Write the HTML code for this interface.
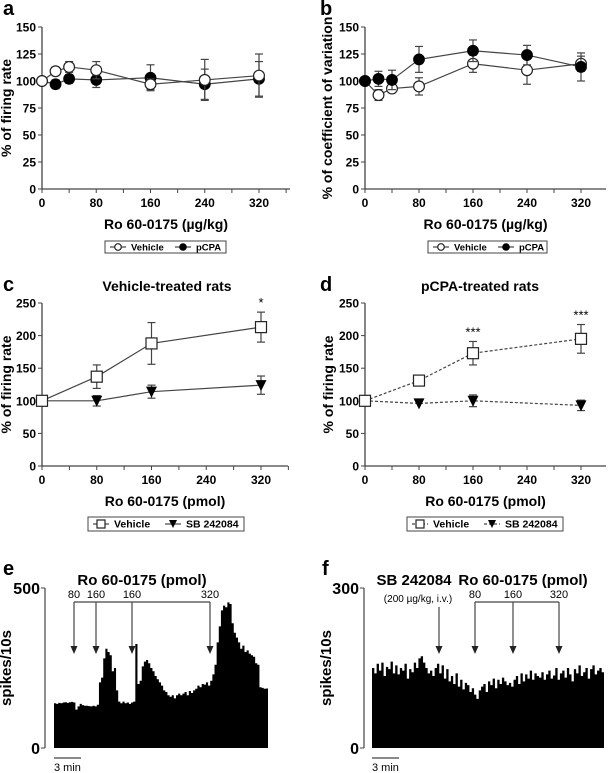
<!DOCTYPE html>
<html><head><meta charset="utf-8"><style>
body{margin:0;background:#fff}
svg{display:block;font-family:"Liberation Sans",Arial,sans-serif}
</style></head><body>
<svg id="fig" width="609" height="773" viewBox="0 0 609 773" xmlns="http://www.w3.org/2000/svg"></svg>
<script>
// ---- data ----
const doseAB = [0,20,40,80,160,240,320];
const aVehicle = [100,109,113,110,97,101,105];
const aVehicleErr = [0,4,5,8,5,19,20];
const aPCPA = [100,97,102,101,103,97,102];
const aPCPAErr = [0,4,4,7,12,14,16];
const bVehicle = [100,87,93,95,116,110,116];
const bVehicleErr = [0,5,4,8,8,13,7];
const bPCPA = [100,102,101,120,128,124,113];
const bPCPAErr = [0,7,9,12,10,9,13];
const doseCD = [0,80,160,320];
const cVehicle = [100,137,188,213];
const cVehicleErr = [0,18,32,23];
const cSB = [100,100,114,124];
const cSBErr = [0,8,10,14];
const dVehicle = [100,131,173,195];
const dVehicleErr = [0,5,18,22];
const dSB = [100,96,100,93];
const dSBErr = [0,0,9,8];
const xTicks = [0,80,160,240,320];
const yTicksAB = [0,25,50,75,100,125,150];
const yTicksCD = [0,50,100,150,200,250];
const eCounts = [140,138,141,140,142,143,141,143,144,142,120,130,138,134,132,132,131,130,132,130,
135,205,220,280,310,300,290,240,250,180,145,140,145,140,142,138,142,145,325,200,
210,255,270,275,265,250,240,225,215,205,195,180,175,165,160,165,155,165,170,165,
170,175,165,178,172,180,185,195,190,200,198,205,195,210,230,260,330,380,430,445,
440,455,450,390,360,345,330,310,320,300,305,295,290,285,265,260,190,188,185,186];
const fCounts = [150,140,158,145,160,135,152,148,162,140,155,138,150,145,158,130,148,142,160,150,
168,172,160,150,140,145,135,150,158,140,155,130,148,125,135,120,140,115,128,110,
122,118,105,112,100,92,108,115,120,105,125,118,130,112,128,120,132,125,118,122,
115,128,135,120,140,125,138,130,145,128,140,135,132,142,128,138,145,130,136,150,
128,140,145,132,150,138,125,148,140,155,135,142,150,130,148,155,138,145,150,142];

const NS="http://www.w3.org/2000/svg";
const svg=document.getElementById('fig');
function el(tag,attrs,parent,text){const e=document.createElementNS(NS,tag);for(const k in attrs)e.setAttribute(k,attrs[k]);if(text!==undefined)e.textContent=text;(parent||svg).appendChild(e);return e;}
const G='#444';

function axes(g,x0,x320,xEnd,yTop,yBot,ymax,yticks,xtitle,ytitle,ytx){
  const sx=v=>x0+(x320-x0)*v/320, sy=v=>yBot-(yBot-yTop)*v/ymax;
  el('line',{x1:x0,y1:yTop,x2:x0,y2:yBot,stroke:G,'stroke-width':1.3},g);
  el('line',{x1:x0,y1:yBot,x2:xEnd,y2:yBot,stroke:G,'stroke-width':1.3},g);
  yticks.forEach(t=>{const y=sy(t);el('line',{x1:x0-4,y1:y,x2:x0,y2:y,stroke:G},g);
    const tx=el('text',{x:x0-6,y:y+4.5,'text-anchor':'end','font-size':12,'font-weight':'bold'},g,t);
    
    });
  for(let v=0;v<=360;v+=40){const x=sx(v);if(x>xEnd+1)break;el('line',{x1:x,y1:yBot,x2:x,y2:yBot+4,stroke:G},g);}
  xTicks.forEach(t=>{const tx=el('text',{x:sx(t),y:yBot+18,'text-anchor':'middle','font-size':12,'font-weight':'bold'},g,t);
    
    });
  const xt=el('text',{x:(x0+xEnd)/2,y:yBot+40,'text-anchor':'middle','font-size':14,'font-weight':'bold'},g,xtitle);
  
  
  const yc=(yTop+yBot)/2;
  const yt=el('text',{x:ytx,y:yc,'text-anchor':'middle','font-size':14,'font-weight':'bold',transform:`rotate(-90 ${ytx} ${yc})`},g,ytitle);
  
  
  return {sx,sy};
}
function marker(g,type,x,y){
  if(type==='oc')return el('circle',{cx:x,cy:y,r:5.4,fill:'#fff',stroke:'#222','stroke-width':1.2},g);
  if(type==='fc')return el('circle',{cx:x,cy:y,r:5.4,fill:'#000',stroke:'#000'},g);
  if(type==='sq')return el('rect',{x:x-5.5,y:y-5.5,width:11,height:11,fill:'#fff',stroke:'#222','stroke-width':1.2},g);
  if(type==='tri')return el('path',{d:`M${x-5.5} ${y-5} L${x+5.5} ${y-5} L${x} ${y+6} Z`,fill:'#000'},g);
}
function series(g,s,xs,ys,err,type,dash,name){
  const sg=el('g',{},g);
  
  
  const pts=xs.map((x,i)=>[s.sx(x),s.sy(ys[i])]);
  el('polyline',{points:pts.map(p=>p.join(',')).join(' '),fill:'none',stroke:G,'stroke-width':1.2,'stroke-dasharray':dash?'3,2':'none'},sg);
  xs.forEach((x,i)=>{if(err[i]>0){const px=s.sx(x),t=s.sy(ys[i]+err[i]),b=s.sy(ys[i]-err[i]);
    el('line',{x1:px,y1:t,x2:px,y2:b,stroke:G,'stroke-width':1.2},sg);
    el('line',{x1:px-4,y1:t,x2:px+4,y2:t,stroke:G,'stroke-width':1.2},sg);
    el('line',{x1:px-4,y1:b,x2:px+4,y2:b,stroke:G,'stroke-width':1.2},sg);}});
  pts.forEach(p=>{const m=marker(sg,type,p[0],p[1]);
    
    });
}
function legend(g,x,y,w,items,dash){
  const lg=el('g',{},g);
  
  
  const small=items[0][0]==='oc';
  const h=small?12:14;
  el('rect',{x:x,y:y,width:w,height:h,fill:'#fff',stroke:G,'stroke-width':1},lg);
  let cx=x+5;const cy=y+h/2;
  items.forEach(([t,label,lw])=>{
    el('line',{x1:cx,y1:cy,x2:cx+16,y2:cy,stroke:G,'stroke-width':1.2,'stroke-dasharray':dash?'3,2':'none'},lg);
    const m=marker(lg,t,cx+8,cy);
    if(t==='oc'||t==='fc')m.setAttribute('r',3.3);
    if(t==='sq'){m.setAttribute('x',cx+4);m.setAttribute('y',cy-4);m.setAttribute('width',8);m.setAttribute('height',8);}
    if(t==='tri')m.setAttribute('d',`M${cx+4} ${cy-4} L${cx+12} ${cy-4} L${cx+8} ${cy+4} Z`);
    const tx=el('text',{x:cx+21,y:cy+3.5,'font-size':small?9.5:10.5,'font-weight':'bold'},lg,label);
    
    
    cx+=lw;});
}
function letter(x,y,l){const t=el('text',{x:x,y:y,'font-size':20,'font-weight':'bold'},svg,l);
  
  }

// panel a
let ga=el('g',{});
letter(3,15,'a');
let sa=axes(ga,42,259,290,27,189,150,yTicksAB,'Ro 60-0175 (µg/kg)','% of firing rate',11);
series(ga,sa,doseAB,aPCPA,aPCPAErr,'fc',false,'pcpa-series');
series(ga,sa,doseAB,aVehicle,aVehicleErr,'oc',false,'vehicle-series');
legend(ga,105,241,121,[['oc','Vehicle',65],['fc','pCPA',50]],false);
// panel b
let gb=el('g',{});
letter(320,15,'b');
let sb=axes(gb,365,581,606,27,189,150,yTicksAB,'Ro 60-0175 (µg/kg)','% of coefficient of variation',332);
series(gb,sb,doseAB,bVehicle,bVehicleErr,'oc',false,'vehicle-series');
series(gb,sb,doseAB,bPCPA,bPCPAErr,'fc',false,'pcpa-series');
legend(gb,428,241,119,[['oc','Vehicle',65],['fc','pCPA',50]],false);
// panel c
let gc=el('g',{});
letter(3,291,'c');
let tc=el('text',{x:167,y:291,'text-anchor':'middle','font-size':14,'font-weight':'bold'},gc,'Vehicle-treated rats');

let sc=axes(gc,42,261,288,303,466,250,yTicksCD,'Ro 60-0175 (pmol)','% of firing rate',11);
series(gc,sc,doseCD,cSB,cSBErr,'tri',false,'sb242084-series');
series(gc,sc,doseCD,cVehicle,cVehicleErr,'sq',false,'vehicle-series');
let st=el('text',{x:sc.sx(320),y:sc.sy(cVehicle[3]+cVehicleErr[3])-5,'text-anchor':'middle','font-size':13},gc,'*');

legend(gc,88,517,156,[['sq','Vehicle',72],['tri','SB 242084',80]],false);
// panel d
let gd=el('g',{});
letter(320,291,'d');
let td=el('text',{x:480,y:291,'text-anchor':'middle','font-size':14,'font-weight':'bold'},gd,'pCPA-treated rats');

let sd=axes(gd,365,581,606,303,466,250,yTicksCD,'Ro 60-0175 (pmol)','% of firing rate',333);
series(gd,sd,doseCD,dSB,dSBErr,'tri',true,'sb242084-series');
series(gd,sd,doseCD,dVehicle,dVehicleErr,'sq',true,'vehicle-series');
[2,3].forEach(i=>{const s=el('text',{x:sd.sx(doseCD[i]),y:sd.sy(dVehicle[i]+dVehicleErr[i])-5,'text-anchor':'middle','font-size':13},gd,'***');
  });
legend(gd,407,517,156,[['sq','Vehicle',72],['tri','SB 242084',80]],true);

// histograms
function hist(name,counts,ymax,axX,x0,x1,yTop,yBot,ytx){
  const g=el('g',{});
  el('line',{x1:axX,y1:yTop,x2:axX,y2:yBot,stroke:G,'stroke-width':1.2},g);
  el('line',{x1:axX-4,y1:yTop,x2:axX,y2:yTop,stroke:G},g);
  el('line',{x1:axX-4,y1:yBot,x2:axX,y2:yBot,stroke:G},g);
  const t1=el('text',{x:axX-5,y:yTop+6,'text-anchor':'end','font-size':16,'font-weight':'bold'},g,ymax);
  
  const t0=el('text',{x:axX-5,y:yBot+6,'text-anchor':'end','font-size':16,'font-weight':'bold'},g,'0');
  
  const yc=(yTop+yBot)/2;
  const yt=el('text',{x:ytx,y:yc,'text-anchor':'middle','font-size':15,'font-weight':'bold',transform:`rotate(-90 ${ytx} ${yc})`},g,'spikes/10s');
  
  const bw=(x1-x0)/counts.length;
  let d=`M${x0} ${yBot}`;
  counts.forEach((c,i)=>{const y=yBot-(yBot-yTop)*c/ymax;d+=` L${x0+i*bw} ${y} L${x0+(i+1)*bw} ${y}`;});
  d+=` L${x1} ${yBot} Z`;
  const p=el('path',{d:d,fill:'#000'},g);
  
  el('line',{x1:x0,y1:758,x2:x0+27,y2:758,stroke:G,'stroke-width':1.2},g);
  const sm=el('text',{x:x0,y:771,'font-size':11},g,'3 min');
  
  return g;
}
function arrow(g,x,y1,y2){el('line',{x1:x,y1:y1,x2:x,y2:y2-6,stroke:G,'stroke-width':1.2},g);
  el('path',{d:`M${x-3.5} ${y2-8} L${x+3.5} ${y2-8} L${x} ${y2} Z`,fill:'#222'},g);}
function lbl(g,x,y,t,fs,fw,name){const e=el('text',{x:x,y:y,'text-anchor':'middle','font-size':fs,'font-weight':fw},g,t);
  }

letter(3,575,'e');
let ge=hist('panel-e',eCounts,500,45,54,268,588,748,11);
lbl(ge,142,585,'Ro 60-0175 (pmol)',15,'bold','injection-label');
el('line',{x1:74,y1:602,x2:210,y2:602,stroke:G,'stroke-width':1.2},ge);
[[74,'80'],[96,'160'],[132,'160'],[210,'320']].forEach(([x,t])=>{lbl(ge,x,598,t,11,'normal','dose-label');arrow(ge,x,602,654);});

letter(322,575,'f');
let gf=hist('panel-f',fCounts,300,364,372,604,588,748,331);
lbl(gf,414,585,'SB 242084',15,'bold','injection-label');
lbl(gf,523,585,'Ro 60-0175 (pmol)',15,'bold','injection-label');
lbl(gf,418,602,'(200 µg/kg, i.v.)',10,'normal','dose-label');
arrow(gf,439,607,654);
el('line',{x1:475,y1:602,x2:559,y2:602,stroke:G,'stroke-width':1.2},gf);
[[475,'80'],[513,'160'],[559,'320']].forEach(([x,t])=>{lbl(gf,x,598,t,11,'normal','dose-label');arrow(gf,x,602,654);});
</script>
</body></html>
